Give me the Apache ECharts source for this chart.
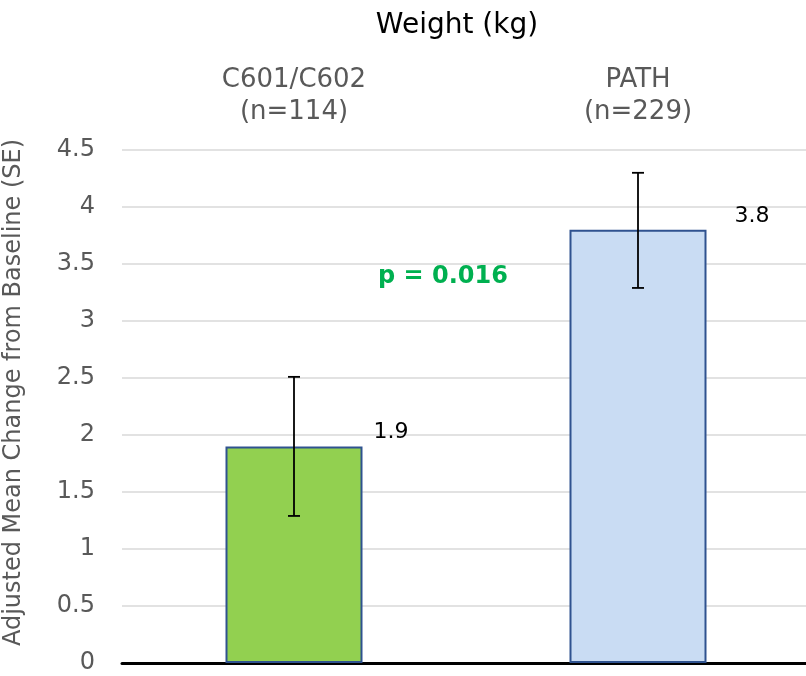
<!DOCTYPE html>
<html><head><meta charset="utf-8">
<script src="https://cdn.jsdelivr.net/npm/echarts@6/dist/echarts.min.js"></script>
<style>html,body{margin:0;padding:0;background:#fff}#c{width:806px;height:676px}</style>
</head><body><div id="c"></div>
<script>
var categories = ['C601/C602\n(n=114)', 'PATH\n(n=229)'];
var means = [1.9, 3.8];
var errLow = [1.29, 3.29];
var errHigh = [2.51, 4.30];
var yTicks = [0, 0.5, 1, 1.5, 2, 2.5, 3, 3.5, 4, 4.5];
var barColors = ['#92D050', '#C9DCF3'];
var labelOffsets = [[97, 2], [114, 2]];
var FONT = '"DejaVu Sans", sans-serif';

var chart = echarts.init(document.getElementById('c'));
chart.setOption({
  animation: false,
  title: {text: 'Weight (kg)', left: 452, top: 7, textAlign: 'center',
    textStyle: {fontFamily: FONT, fontSize: 28, fontWeight: 'normal', color: '#000'}},
  grid: {left: 122, right: -4, top: 150, bottom: 13, containLabel: false, outerBoundsMode: 'none'},
  xAxis: [{
    type: 'category', data: categories, position: 'bottom',
    axisLine: {lineStyle: {color: '#000', width: 3}},
    axisTick: {show: false}, axisLabel: {show: false}
  }, {
    type: 'category', data: categories, position: 'top',
    axisLine: {show: false}, axisTick: {show: false},
    axisLabel: {color: '#595959', fontFamily: FONT, fontSize: 26, lineHeight: 32, margin: 22}
  }],
  yAxis: {
    type: 'value', min: 0, max: 4.5, interval: 0.5,
    name: 'Adjusted Mean Change from Baseline (SE)', nameLocation: 'middle', nameGap: 96,
    nameTextStyle: {color: '#595959', fontFamily: FONT, fontSize: 24, padding: [0, 0, 0, 28]},
    axisLine: {show: false}, axisTick: {show: false},
    axisLabel: {color: '#595959', fontFamily: FONT, fontSize: 24, margin: 27,
      formatter: function (v) { return yTicks.indexOf(v) >= 0 ? String(v) : ''; }},
    splitLine: {lineStyle: {color: '#D9D9D9', width: 1.5}}
  },
  series: [{
    type: 'bar', barWidth: 137, xAxisIndex: 0,
    data: means.map(function (v, i) {
      return {value: v, itemStyle: {color: barColors[i]},
        label: {offset: labelOffsets[i]}};
    }),
    itemStyle: {borderColor: '#2F528F', borderWidth: 2},
    label: {show: true, position: 'top', color: '#000', fontFamily: FONT, fontSize: 22}
  }, {
    type: 'custom', xAxisIndex: 0, z: 10,
    data: errLow.map(function (lo, i) { return [i, lo, errHigh[i]]; }),
    renderItem: function (params, api) {
      var lo = api.coord([api.value(0), api.value(1)]);
      var hi = api.coord([api.value(0), api.value(2)]);
      var w = 6;
      var st = {stroke: '#000', lineWidth: 1.8};
      return {type: 'group', children: [
        {type: 'line', shape: {x1: lo[0], y1: lo[1], x2: hi[0], y2: hi[1]}, style: st},
        {type: 'line', shape: {x1: lo[0] - w, y1: lo[1], x2: lo[0] + w, y2: lo[1]}, style: st},
        {type: 'line', shape: {x1: hi[0] - w, y1: hi[1], x2: hi[0] + w, y2: hi[1]}, style: st}
      ]};
    }
  }],
  graphic: [{
    type: 'text', x: 443, y: 277,
    style: {text: 'p = 0.016', fill: '#00B050', fontFamily: FONT, fontSize: 24, fontWeight: 'bold',
      textAlign: 'center', textVerticalAlign: 'middle'}
  }]
});
</script></body></html>
